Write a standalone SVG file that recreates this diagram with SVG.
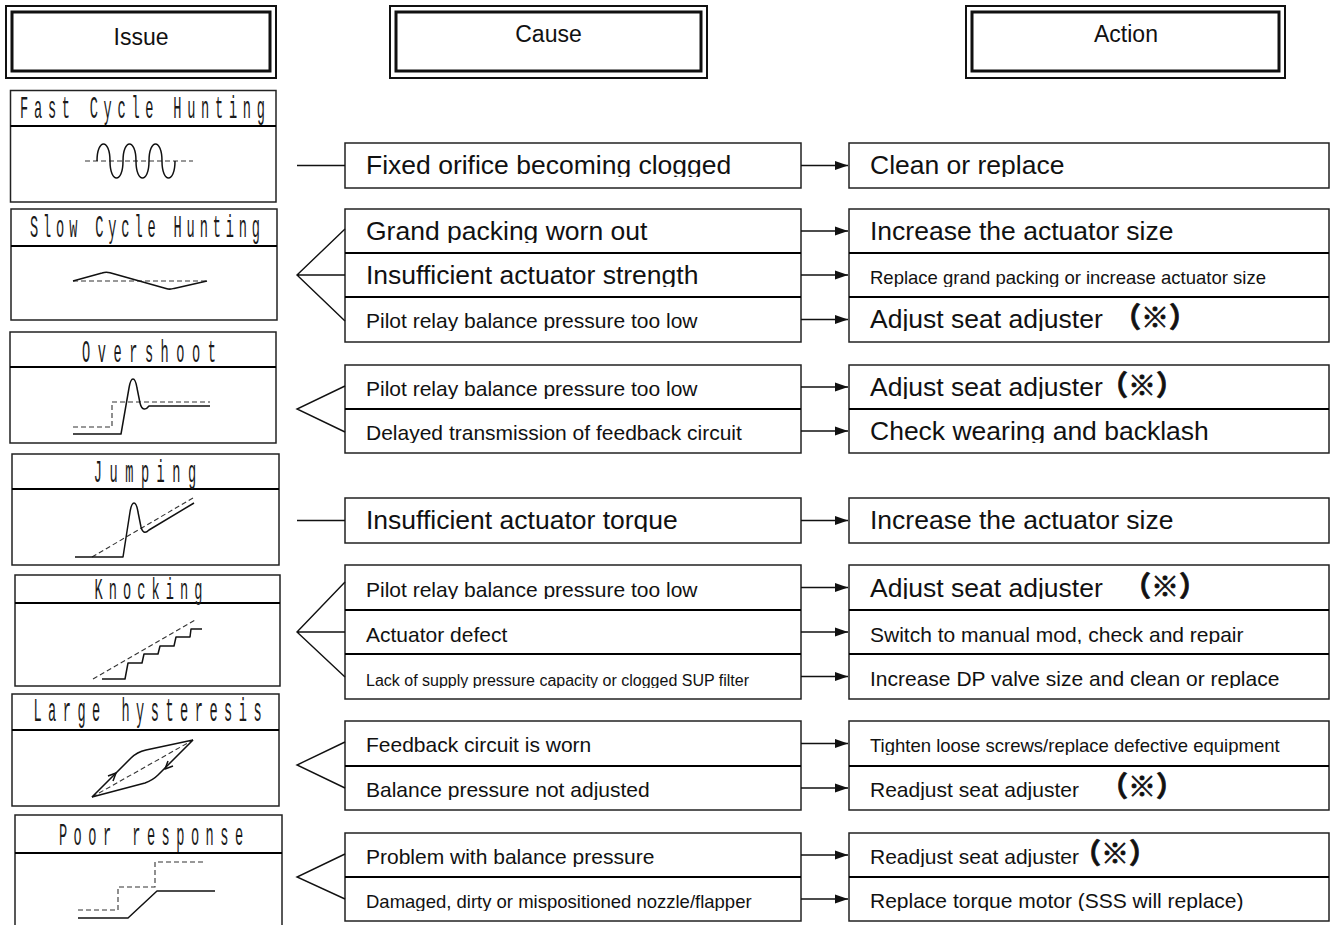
<svg xmlns="http://www.w3.org/2000/svg" width="1333" height="925" viewBox="0 0 1333 925">
<style>
.hdro{fill:#fff;stroke:#111;stroke-width:2}
.hdri{fill:none;stroke:#111;stroke-width:3}
.hdr{font-family:"Liberation Sans",Arial,sans-serif;font-size:23px;fill:#111;text-anchor:middle}
.box{fill:#fff;stroke:#222;stroke-width:1.5}
.dv{stroke:#000;stroke-width:2.2;fill:none}
.ttl{font-family:"Liberation Mono","Courier New",monospace;font-size:22px;fill:#1a1a1a;text-anchor:middle}
.sol{fill:none;stroke:#111;stroke-width:1.5;stroke-linejoin:round}
.dsh{fill:none;stroke:#333;stroke-width:1.1;stroke-dasharray:5 3}
.L{font-family:"Liberation Sans",Arial,sans-serif;font-size:26.5px;fill:#111}
.M{font-family:"Liberation Sans",Arial,sans-serif;font-size:21px;fill:#111}
.S{font-family:"Liberation Sans",Arial,sans-serif;font-size:18.5px;fill:#111}
.XS{font-family:"Liberation Sans",Arial,sans-serif;font-size:16px;fill:#111}
.k{font-family:"Noto Sans CJK JP","Noto Sans CJK SC",sans-serif;font-weight:bold;font-size:28px;fill:#111;stroke:#111;stroke-width:0.7}
.cn{fill:none;stroke:#111;stroke-width:1.4}
.ar{fill:none;stroke:#111;stroke-width:1.6;marker-end:url(#ah)}
</style>
<defs>
<marker id="ah" markerUnits="userSpaceOnUse" markerWidth="13" markerHeight="10" refX="13" refY="5" orient="auto"><path d="M0,0.5 L13,5 L0,9.5 Z" fill="#111"/></marker>
<clipPath id="c-r1"><rect x="340" y="144" width="995" height="33"/></clipPath>
<clipPath id="c-s1"><rect x="340" y="210" width="995" height="33"/></clipPath>
<clipPath id="c-s2"><rect x="340" y="254" width="995" height="33"/></clipPath>
<clipPath id="c-s3"><rect x="340" y="298" width="995" height="33"/></clipPath>
<clipPath id="c-o1"><rect x="340" y="366" width="995" height="33"/></clipPath>
<clipPath id="c-o2"><rect x="340" y="410" width="995" height="33"/></clipPath>
<clipPath id="c-j1"><rect x="340" y="499" width="995" height="33"/></clipPath>
<clipPath id="c-k1"><rect x="340" y="566" width="995" height="33"/></clipPath>
<clipPath id="c-k2"><rect x="340" y="611" width="995" height="33"/></clipPath>
<clipPath id="c-k3"><rect x="340" y="655" width="995" height="33"/></clipPath>
<clipPath id="c-h1"><rect x="340" y="722" width="995" height="33"/></clipPath>
<clipPath id="c-h2"><rect x="340" y="767" width="995" height="33"/></clipPath>
<clipPath id="c-p1"><rect x="340" y="834" width="995" height="33"/></clipPath>
<clipPath id="c-p2"><rect x="340" y="878" width="995" height="33"/></clipPath>
</defs>
<rect width="1333" height="925" fill="#fff"/>

<!-- headers -->
<g id="hdr-issue"><rect class="hdro" x="6" y="6" width="270" height="72"/><rect class="hdri" x="12" y="12" width="258" height="59"/><text class="hdr" x="141" y="45">Issue</text></g>
<g id="hdr-cause"><rect class="hdro" x="390" y="6" width="317" height="72"/><rect class="hdri" x="396" y="12" width="305" height="59"/><text class="hdr" x="548.5" y="42">Cause</text></g>
<g id="hdr-action"><rect class="hdro" x="966" y="6" width="319" height="72"/><rect class="hdri" x="972" y="12" width="307" height="59"/><text class="hdr" x="1126" y="42">Action</text></g>

<!-- issues -->
<g id="issue-fast">
<rect class="box" x="10.5" y="90.5" width="265.5" height="111.5"/><line class="dv" x1="10.5" y1="126" x2="276" y2="126"/>
<text class="ttl" transform="translate(142.5,118) scale(0.62,1.45)" textLength="395" lengthAdjust="spacing">Fast Cycle Hunting</text>
<path class="dsh" d="M85,161 H193"/>
<path class="sol" d="M97,161 C97,138.3 110,138.3 110,161 C110,183.7 123,183.7 123,161 C123,138.3 136,138.3 136,161 C136,183.7 149,183.7 149,161 C149,138.3 162,138.3 162,161 C162,183.7 175,183.7 175,161"/>
</g>
<g id="issue-slow">
<rect class="box" x="11" y="209" width="266" height="111"/><line class="dv" x1="11" y1="246" x2="277" y2="246"/>
<text class="ttl" transform="translate(145,237) scale(0.62,1.45)" textLength="371" lengthAdjust="spacing">Slow Cycle Hunting</text>
<path class="dsh" d="M73,281 H207"/>
<path class="sol" d="M73,281 L102,273 Q106,271.6 110,272.8 L166,288.5 Q170,289.8 174,288.4 L207,281"/>
</g>
<g id="issue-overshoot">
<rect class="box" x="10" y="332" width="266" height="111"/><line class="dv" x1="10" y1="367" x2="276" y2="367"/>
<text class="ttl" transform="translate(149,362) scale(0.62,1.45)" textLength="216" lengthAdjust="spacing">Overshoot</text>
<path class="dsh" d="M73,427 H112 V402 H210"/>
<path class="sol" d="M73,434 H121 L129,388 C131,376 135,376 137,388 L140,403 C142,411 146,410 149,406 H210"/>
</g>
<g id="issue-jumping">
<rect class="box" x="12" y="454" width="267" height="111"/><line class="dv" x1="12" y1="489" x2="279" y2="489"/>
<text class="ttl" transform="translate(145,482) scale(0.62,1.45)" textLength="165" lengthAdjust="spacing">Jumping</text>
<path class="dsh" d="M92,557 L193,498"/>
<path class="sol" d="M75,557 H123 L130,512 C132,500 136,500 138,512 L141,527 C143,534 146,533 149,530 L194,503"/>
</g>
<g id="issue-knocking">
<rect class="box" x="15" y="575" width="265" height="111"/><line class="dv" x1="15" y1="603" x2="280" y2="603"/>
<text class="ttl" transform="translate(148.5,599) scale(0.62,1.3)" textLength="174" lengthAdjust="spacing">Knocking</text>
<path class="dsh" d="M93,679 L195,620"/>
<path class="sol" d="M102,679 H125 L128,663 H142 L144,654 H158 L160,646 H174 L176,637 H190 L191,629 H202"/>
</g>
<g id="issue-hysteresis">
<rect class="box" x="12" y="694" width="267" height="112"/><line class="dv" x1="12" y1="730" x2="279" y2="730"/>
<text class="ttl" transform="translate(147.5,721) scale(0.62,1.5)" textLength="368" lengthAdjust="spacing">Large hysteresis</text>
<path class="dsh" d="M92,797 L193,740"/>
<path class="sol" d="M92,797 L131,758 Q137,752 146,750 L193,740"/>
<path class="sol" d="M92,797 L145,783 Q153,780 158,775 L193,740"/>
<path class="sol" d="M108,776 L116,773 L113,781"/>
<path class="sol" d="M173,766 L165,769 L168,761"/>
</g>
<g id="issue-poor">
<rect class="box" x="15" y="815" width="267" height="125"/><line class="dv" x1="15" y1="853" x2="282" y2="853"/>
<text class="ttl" transform="translate(151,845) scale(0.62,1.45)" textLength="297" lengthAdjust="spacing">Poor response</text>
<path class="dsh" d="M78,910 H118 V887 H155 V862 H203"/>
<path class="sol" d="M78,918 H128 L157,891 H215"/>
</g>

<!-- causes -->
<g id="cause-fast">
<rect class="box" x="345" y="143" width="456" height="45"/>
<text class="L" x="366" y="174" clip-path="url(#c-r1)">Fixed orifice becoming clogged</text>
</g>
<g id="cause-slow">
<rect class="box" x="345" y="209" width="456" height="133"/>
<line class="dv" x1="345" y1="253" x2="801" y2="253"/><line class="dv" x1="345" y1="297" x2="801" y2="297"/>
<text class="L" x="366" y="240" clip-path="url(#c-s1)">Grand packing worn out</text>
<text class="L" x="366" y="284" clip-path="url(#c-s2)">Insufficient actuator strength</text>
<text class="M" x="366" y="328" clip-path="url(#c-s3)">Pilot relay balance pressure too low</text>
</g>
<g id="cause-overshoot">
<rect class="box" x="345" y="365" width="456" height="88"/>
<line class="dv" x1="345" y1="409" x2="801" y2="409"/>
<text class="M" x="366" y="396" clip-path="url(#c-o1)">Pilot relay balance pressure too low</text>
<text class="M" x="366" y="440" clip-path="url(#c-o2)">Delayed transmission of feedback circuit</text>
</g>
<g id="cause-jumping">
<rect class="box" x="345" y="498" width="456" height="45"/>
<text class="L" x="366" y="529" clip-path="url(#c-j1)">Insufficient actuator torque</text>
</g>
<g id="cause-knocking">
<rect class="box" x="345" y="565" width="456" height="134"/>
<line class="dv" x1="345" y1="610" x2="801" y2="610"/><line class="dv" x1="345" y1="654" x2="801" y2="654"/>
<text class="M" x="366" y="597" clip-path="url(#c-k1)">Pilot relay balance pressure too low</text>
<text class="M" x="366" y="642" clip-path="url(#c-k2)">Actuator defect</text>
<text class="XS" x="366" y="686" clip-path="url(#c-k3)">Lack of supply pressure capacity or clogged SUP filter</text>
</g>
<g id="cause-hysteresis">
<rect class="box" x="345" y="721" width="456" height="89"/>
<line class="dv" x1="345" y1="766" x2="801" y2="766"/>
<text class="M" x="366" y="752" clip-path="url(#c-h1)">Feedback circuit is worn</text>
<text class="M" x="366" y="797" clip-path="url(#c-h2)">Balance pressure not adjusted</text>
</g>
<g id="cause-poor">
<rect class="box" x="345" y="833" width="456" height="88"/>
<line class="dv" x1="345" y1="877" x2="801" y2="877"/>
<text class="M" x="366" y="864" clip-path="url(#c-p1)">Problem with balance pressure</text>
<text class="S" x="366" y="908" clip-path="url(#c-p2)">Damaged, dirty or mispositioned nozzle/flapper</text>
</g>

<!-- actions -->
<g id="action-fast">
<rect class="box" x="849" y="143" width="480" height="45"/>
<text class="L" x="870" y="174" clip-path="url(#c-r1)">Clean or replace</text>
</g>
<g id="action-slow">
<rect class="box" x="849" y="209" width="480" height="133"/>
<line class="dv" x1="849" y1="253" x2="1329" y2="253"/><line class="dv" x1="849" y1="297" x2="1329" y2="297"/>
<text class="L" x="870" y="240" clip-path="url(#c-s1)">Increase the actuator size</text>
<text class="S" x="870" y="284" clip-path="url(#c-s2)">Replace grand packing or increase actuator size</text>
<text class="L" x="870" y="328" clip-path="url(#c-s3)">Adjust seat adjuster<tspan class="k" x="1113">（※）</tspan></text>
</g>
<g id="action-overshoot">
<rect class="box" x="849" y="365" width="480" height="88"/>
<line class="dv" x1="849" y1="409" x2="1329" y2="409"/>
<text class="L" x="870" y="396" clip-path="url(#c-o1)">Adjust seat adjuster<tspan class="k" x="1100">（※）</tspan></text>
<text class="L" x="870" y="440" clip-path="url(#c-o2)">Check wearing and backlash</text>
</g>
<g id="action-jumping">
<rect class="box" x="849" y="498" width="480" height="45"/>
<text class="L" x="870" y="529" clip-path="url(#c-j1)">Increase the actuator size</text>
</g>
<g id="action-knocking">
<rect class="box" x="849" y="565" width="480" height="134"/>
<line class="dv" x1="849" y1="610" x2="1329" y2="610"/><line class="dv" x1="849" y1="654" x2="1329" y2="654"/>
<text class="L" x="870" y="597" clip-path="url(#c-k1)">Adjust seat adjuster<tspan class="k" x="1123">（※）</tspan></text>
<text class="M" x="870" y="642" clip-path="url(#c-k2)">Switch to manual mod, check and repair</text>
<text class="M" x="870" y="686" clip-path="url(#c-k3)">Increase DP valve size and clean or replace</text>
</g>
<g id="action-hysteresis">
<rect class="box" x="849" y="721" width="480" height="89"/>
<line class="dv" x1="849" y1="766" x2="1329" y2="766"/>
<text class="S" x="870" y="752" clip-path="url(#c-h1)">Tighten loose screws/replace defective equipment</text>
<text class="M" x="870" y="797" clip-path="url(#c-h2)">Readjust seat adjuster<tspan class="k" x="1100">（※）</tspan></text>
</g>
<g id="action-poor">
<rect class="box" x="849" y="833" width="480" height="88"/>
<line class="dv" x1="849" y1="877" x2="1329" y2="877"/>
<text class="M" x="870" y="864" clip-path="url(#c-p1)">Readjust seat adjuster<tspan class="k" x="1073">（※）</tspan></text>
<text class="M" x="870" y="908" clip-path="url(#c-p2)">Replace torque motor (SSS will replace)</text>
</g>

<!-- connectors -->
<g id="connectors">
<path class="cn" d="M297,165.5 H345"/>
<path class="cn" d="M345,229 L297,275 L345,321 M297,275 H345"/>
<path class="cn" d="M345,386 L297,409 L345,432"/>
<path class="cn" d="M297,520.5 H345"/>
<path class="cn" d="M345,582 L297,632 L345,677 M297,632 H345"/>
<path class="cn" d="M345,742 L297,765 L345,788"/>
<path class="cn" d="M345,854 L297,877 L345,899"/>
<path class="ar" d="M801,165.5 H848"/>
<path class="ar" d="M801,231 H848"/>
<path class="ar" d="M801,275 H848"/>
<path class="ar" d="M801,319.5 H848"/>
<path class="ar" d="M801,387 H848"/>
<path class="ar" d="M801,431 H848"/>
<path class="ar" d="M801,520.5 H848"/>
<path class="ar" d="M801,587.5 H848"/>
<path class="ar" d="M801,632 H848"/>
<path class="ar" d="M801,676.5 H848"/>
<path class="ar" d="M801,743.5 H848"/>
<path class="ar" d="M801,788 H848"/>
<path class="ar" d="M801,855 H848"/>
<path class="ar" d="M801,899 H848"/>
</g>
</svg>
